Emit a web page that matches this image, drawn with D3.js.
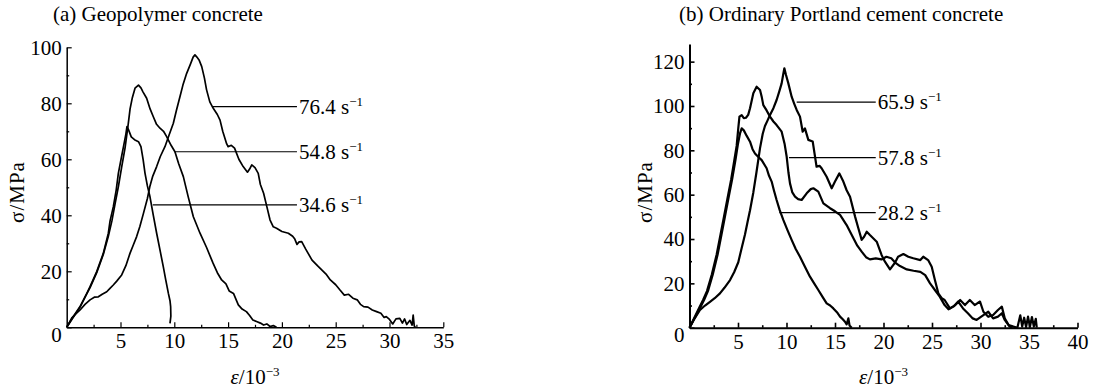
<!DOCTYPE html>
<html>
<head>
<meta charset="utf-8">
<script src="https://cdn.jsdelivr.net/npm/d3@7"></script>
<style>
    body { margin: 0; background: #fff; }
    .curve { fill: none; stroke: #000; stroke-linejoin: round; }
    .leader { stroke: #000; stroke-width: 1.2; }
</style>
</head>
<body>
<svg id="chart" width="1103" height="390"></svg>
<script>
// (a) geopolymer concrete, strain (10^-3) vs stress (MPa)
const geo764 = [[0,0],[0.5,3.5],[1.24,6.2],[1.7,8.2],[2.17,9.8],[2.6,10.8],[2.94,10.9],[3.3,11.8],[3.72,12.7],[4.0,13.8],[4.33,15.1],[4.65,16.5],[5.11,18.7],[5.5,22],[5.88,26.4],[6.2,29.5],[6.5,32.4],[6.8,36],[7.12,40.5],[7.5,46],[7.74,50.5],[8.0,54],[8.36,57.4],[8.7,61],[9.13,64.5],[9.5,68.5],[9.91,72.9],[10.2,77.5],[10.53,82.4],[10.8,86.5],[11.15,90.7],[11.5,94],[11.75,96.5],[11.92,97.3],[12.1,96.5],[12.3,95.5],[12.55,93.1],[12.8,89],[13.0,84.8],[13.3,80.5],[13.62,78.2],[14.0,76],[14.25,74],[14.5,70],[14.87,65.5],[15.0,64.5],[15.3,65],[15.6,64],[16.0,60],[16.4,57.4],[16.8,55.4],[17.0,56.5],[17.2,58],[17.5,57],[17.8,55],[18.0,51],[18.3,47.9],[18.6,43.1],[18.9,38.3],[19.2,35.9],[19.5,35.4],[20.0,34.2],[20.6,33.6],[21.0,32.5],[21.2,31.5],[21.4,29.6],[21.6,30.5],[21.84,30.6],[22.2,28],[22.8,24],[23.3,22],[23.7,20.5],[24.1,19],[24.5,16.9],[25.0,15.2],[25.4,13.3],[25.8,11.5],[26.2,11.8],[26.6,10.4],[27.0,9.8],[27.3,8.2],[27.6,7.4],[28.0,7.2],[28.4,6.2],[28.8,5.6],[29.2,5.0],[29.5,3.5],[29.7,3.8],[30.0,2.8],[30.3,1.2],[30.6,3.0],[30.96,3.2],[31.2,1.5],[31.4,3.0],[31.6,1.0],[31.9,2.5],[32.1,0.8],[32.2,4.4],[32.3,0.5],[32.4,0]];
const geo548 = [[0,0],[0.6,3.5],[1.24,7.2],[1.8,11.5],[2.17,14.2],[2.79,19.5],[3.4,26],[3.87,32.5],[4.2,38],[4.49,44],[4.8,50.2],[5.1,57],[5.42,64],[5.7,72],[5.89,78],[6.1,82],[6.35,85.4],[6.67,86.5],[6.9,85.5],[7.1,84],[7.43,81.8],[7.75,78],[8.05,75.2],[8.35,72.5],[8.67,71.1],[9.0,70],[9.29,68.1],[9.7,65],[10.06,62.7],[10.4,58.5],[10.84,53.8],[11.3,46.5],[11.77,39.5],[12.39,33.6],[13.0,28.5],[13.6,22.9],[14.0,19.5],[14.4,16.9],[14.8,15.5],[15.1,13],[15.5,12.1],[15.95,8],[16.3,6.5],[16.7,5.6],[17.0,4.2],[17.3,2.6],[17.7,2.0],[18.0,1.5],[18.3,0.8],[18.6,1.2],[18.9,0.3],[19.2,0.6],[19.5,0]];
const geo346 = [[0,0],[0.6,3.8],[1.24,7.4],[1.86,12],[2.17,14.5],[2.79,19.9],[3.4,26.4],[3.87,33.6],[4.03,38],[4.33,43],[4.6,49],[4.8,55],[5.1,61],[5.3,65],[5.5,69],[5.6,71.7],[5.75,70.5],[6.0,68],[6.3,67],[6.67,66.3],[6.9,64.5],[7.1,60],[7.28,55],[7.5,50.5],[7.74,46.6],[8.05,40],[8.36,33.6],[8.7,27],[8.98,21.6],[9.2,17],[9.45,12.1],[9.6,9.5],[9.66,7.4],[9.68,4],[9.6,1.4]];

// (b) ordinary Portland cement concrete
const opc659 = [[0,0],[0.5,4],[1.08,8],[1.6,10],[2.11,11.7],[2.6,13.3],[3.14,15.5],[3.6,18],[4.18,21.5],[4.6,25],[5.03,29.5],[5.38,36],[5.72,42],[6.0,48],[6.24,53],[6.58,61],[6.9,70],[7.27,81],[7.55,87.5],[7.78,91],[8.05,93.5],[8.3,95.9],[8.65,99],[8.98,102.7],[9.25,106.5],[9.5,110.2],[9.65,114],[9.78,117],[9.95,114],[10.19,110.2],[10.53,104.2],[10.8,101],[11.05,98.2],[11.39,95.2],[11.67,88.4],[11.9,89.9],[12.25,84.7],[12.7,84],[13.1,72.6],[13.4,73],[13.62,71.9],[14.14,68.1],[14.66,62.9],[15.0,65.9],[15.45,69.6],[15.86,65.9],[16.2,62],[16.55,59.1],[17.07,50.1],[17.4,45],[17.75,39.6],[18.0,41],[18.27,43.3],[18.6,41.8],[19.3,38.8],[19.8,32.8],[20.15,29.8],[20.67,26.3],[21.2,29.4],[21.5,32],[22.05,33.2],[22.56,32],[23.07,31.3],[23.8,30.5],[24.1,32],[24.6,30.5],[24.97,27.5],[25.3,21.5],[25.65,15.5],[26.0,13.3],[26.3,12.5],[26.85,8.7],[27.4,10.2],[27.9,12.5],[28.4,10.2],[28.9,12.5],[29.4,10.2],[29.95,11.8],[30.3,7.2],[30.8,4.9],[31.3,5.7],[31.8,8],[32.2,9.5],[32.5,4.2],[32.9,1.2],[33.4,0.5],[33.8,0],[34.1,5.6],[34.3,0.5],[34.5,4.5],[34.7,0.3],[34.9,5],[35.1,0.4],[35.3,4.8],[35.5,0.5],[35.7,4],[35.8,0]];
const opc578 = [[0,0],[0.5,4.5],[1.0,9],[1.4,12.5],[1.8,16.5],[2.3,24],[2.8,33],[3.2,42],[3.55,50],[3.9,58],[4.3,67],[4.6,75],[4.86,82],[5.03,90],[5.15,95.2],[5.38,95.9],[5.6,94.5],[5.82,94.7],[6.05,96],[6.24,99],[6.58,105.7],[6.92,108.7],[7.27,107.2],[7.45,104],[7.61,100.4],[7.95,98],[8.3,95.2],[8.65,93],[8.98,91.4],[9.5,88.4],[9.8,83],[10.02,77.1],[10.2,70],[10.36,65.1],[10.6,61],[10.88,59.1],[11.2,58],[11.56,57.6],[12.08,60.6],[12.5,62.5],[12.77,62.9],[13.28,61.4],[13.8,56.1],[14.49,53.9],[15.0,52.5],[15.52,50.9],[16.2,46.3],[16.9,40.3],[17.3,37],[17.75,34.3],[18.2,31.8],[18.6,30.8],[19.2,31.3],[19.8,30.8],[20.3,32],[20.8,31.3],[21.2,29.4],[21.7,27.8],[22.4,26.3],[23.1,25.7],[23.8,25.2],[24.3,23.7],[24.8,20],[25.3,17],[25.8,14],[26.3,10.2],[26.7,8.3],[27.2,9.5],[27.7,11.8],[28.2,8.7],[28.7,6.5],[29.2,4.2],[29.6,3.5],[30.3,5.7],[30.8,7.2],[31.3,4.2],[31.8,5],[32.2,6.5],[32.5,3.5],[33.0,0.5],[33.3,0]];
const opc282 = [[0,0],[0.55,4.5],[1.1,9],[1.5,12.5],[1.9,16.5],[2.4,24],[2.9,33],[3.3,42],[3.65,50],[4.0,58],[4.4,67],[4.75,76],[5.0,83],[5.2,87.5],[5.38,89.9],[5.6,89],[5.9,86.5],[6.24,83.9],[6.5,80.5],[6.75,78.6],[7.1,77],[7.44,75.6],[7.95,71.9],[8.2,68.5],[8.47,65.9],[8.7,62],[8.98,57.6],[9.3,53],[9.67,48.6],[10.1,44],[10.53,39.6],[10.95,35.5],[11.39,32],[11.9,27.5],[12.42,23],[12.85,20],[13.28,17],[13.7,14],[14.14,11],[14.5,10],[14.83,8.7],[15.2,7],[15.52,5],[15.8,3.8],[16.03,2.7],[16.2,1.5],[16.38,4.2],[16.5,1.0],[16.72,0]];

// strain-rate labels and where their leader lines touch the curve (data units)
const geoRates = ['76.4', '54.8', '34.6'];
const geoLeaders = [[13.5, 78.8], [10.0, 62.7], [8.0, 43.7]];
const opcRates = ['65.9', '57.8', '28.2'];
const opcLeaders = [[11.05, 101.7], [10.26, 76.7], [9.26, 51.9]];

const geoXTicks = [5, 10, 15, 20, 25, 30, 35];
const geoYTicks = [0, 20, 40, 60, 80, 100];
const opcXTicks = [5, 10, 15, 20, 25, 30, 35, 40];
const opcYTicks = [0, 20, 40, 60, 80, 100, 120];

const FONT = 'Liberation Serif';
const svg = d3.select('#chart');

function drawPanel(p) {
    const x = d3.scaleLinear().domain([0, p.xMax]).range(p.xRange);
    const y = d3.scaleLinear().domain([0, p.yMax]).range(p.yRange);
    const g = svg.append('g');

    //minor ticks (half steps)
    const xMinor = d3.range(2.5, p.xMax, 5);
    const yMinor = d3.range(10, p.yMax, 20);

    g.append('g')
        .attr('transform', 'translate(0,' + y(0) + ')')
        .call(d3.axisBottom(x).tickValues(xMinor).tickSize(-2.5).tickFormat(''))
        .call(a => a.select('.domain').remove())
        .selectAll('line').attr('stroke-width', p.axisW * 0.8);

    g.append('g')
        .attr('transform', 'translate(' + x(0) + ',0)')
        .call(d3.axisLeft(y).tickValues(yMinor).tickSize(-2.5).tickFormat(''))
        .call(a => a.select('.domain').remove())
        .selectAll('line').attr('stroke-width', p.axisW * 0.8);

    //major axes
    const xAxis = g.append('g')
        .attr('transform', 'translate(0,' + y(0) + ')')
        .call(d3.axisBottom(x).tickValues(p.xTicks).tickSizeInner(-5).tickSizeOuter(0).tickPadding(6));
    xAxis.selectAll('text').attr('font-size', 21);
    xAxis.select('.domain').attr('stroke-width', p.axisW);
    xAxis.selectAll('line').attr('stroke-width', p.axisW * 0.8);

    const yAxis = g.append('g')
        .attr('transform', 'translate(' + x(0) + ',0)')
        .call(d3.axisLeft(y).tickValues(p.yTicks).tickSizeInner(-5).tickSizeOuter(0).tickPadding(5));
    yAxis.selectAll('text').attr('font-size', 21);
    yAxis.selectAll('.tick').filter(d => d === 0).select('text').attr('dy', '0.68em');
    yAxis.select('.domain').attr('stroke-width', p.axisW);
    yAxis.selectAll('line').attr('stroke-width', p.axisW * 0.8);

    //curves
    const line = d3.line().x(d => x(d[0])).y(d => y(d[1]));
    p.series.forEach(s => {
        g.append('path')
            .classed('curve', true)
            .datum(s)
            .attr('stroke-width', p.curveW)
            .attr('d', line);
    });

    //leader lines and rate labels
    p.leaders.forEach((pt, i) => {
        g.append('line')
            .classed('leader', true)
            .attr('x1', x(pt[0])).attr('y1', y(pt[1]))
            .attr('x2', x(p.leaderEnd)).attr('y2', y(pt[1]));
        const t = g.append('text')
            .attr('x', x(p.leaderEnd) + 2)
            .attr('y', y(pt[1]) + 7)
            .attr('font-size', 21);
        t.append('tspan').text(p.rates[i] + ' s');
        t.append('tspan').attr('font-size', 13).attr('dy', -8).text('\u22121');
    });

    //title
    g.append('text')
        .attr('x', p.titleX)
        .attr('y', 21)
        .attr('font-size', 21)
        .text(p.title);

    //axis labels
    g.append('text')
        .attr('transform', 'translate(' + p.yLabelX + ',192) rotate(-90)')
        .attr('text-anchor', 'middle')
        .attr('font-size', 21)
        .attr('letter-spacing', 1)
        .text('\u03c3/MPa');

    const xl = g.append('text')
        .attr('x', (p.xRange[0] + p.xRange[1]) / 2)
        .attr('y', 384)
        .attr('text-anchor', 'middle')
        .attr('font-size', 21);
    xl.append('tspan').attr('font-style', 'italic').text('\u03b5');
    xl.append('tspan').text('/10');
    xl.append('tspan').attr('font-size', 13).attr('dy', -8).text('\u22123');
}

drawPanel({
    title: '(a) Geopolymer concrete', titleX: 53,
    xMax: 35, yMax: 100,
    xRange: [66.7, 443.3], yRange: [327.3, 47.3],
    xTicks: geoXTicks, yTicks: geoYTicks,
    series: [geo764, geo548, geo346],
    rates: geoRates, leaders: geoLeaders, leaderEnd: 21.4,
    yLabelX: 24, axisW: 1.5, curveW: 1.7
});

drawPanel({
    title: '(b) Ordinary Portland cement concrete', titleX: 679,
    xMax: 40, yMax: 128,
    xRange: [689.5, 1077.5], yRange: [327.7, 43.9],
    xTicks: opcXTicks, yTicks: opcYTicks,
    series: [opc659, opc578, opc282],
    rates: opcRates, leaders: opcLeaders, leaderEnd: 19.2,
    yLabelX: 652, axisW: 2, curveW: 2.2
});

// every text in the serif face, set on the element itself
svg.selectAll('text, tspan').attr('font-family', FONT);
</script>
</body>
</html>
